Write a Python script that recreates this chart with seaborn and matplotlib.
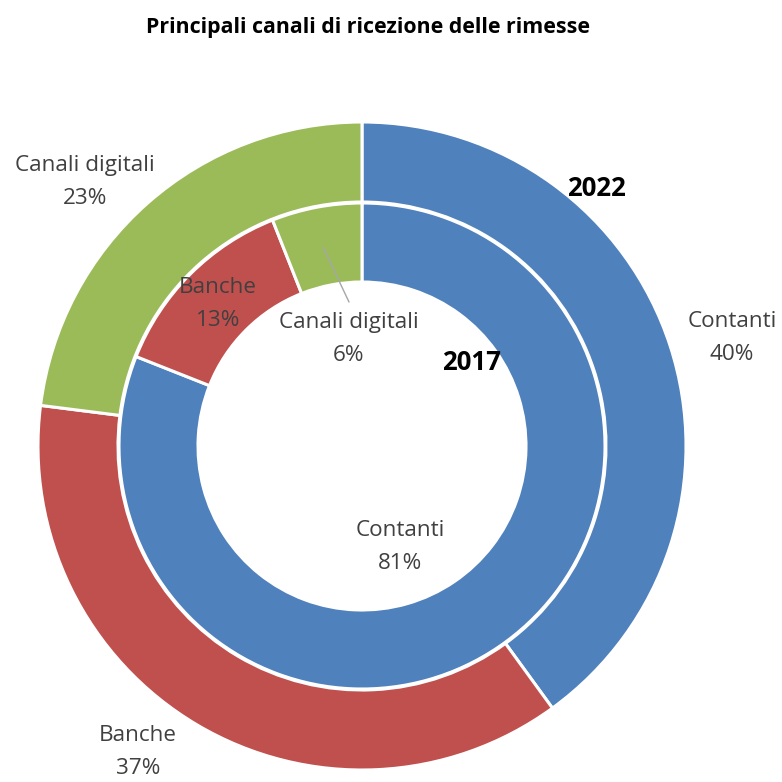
import matplotlib
matplotlib.use("Agg")
import matplotlib.pyplot as plt
import seaborn as sns

# data
categories = ["Contanti", "Banche", "Canali digitali"]
values_2022 = [40, 37, 23]
values_2017 = [81, 13, 6]
colors = ["#4F81BD", "#C0504D", "#9BBB59"]

sns.set_theme(style="white")
plt.rcParams['font.family'] = ['Open Sans', 'DejaVu Sans']

W = 782
fig = plt.figure(figsize=(7.82, 7.82), dpi=100)
ax = fig.add_axes([0, 0, 1, 1])
ax.set_xlim(0, W)
ax.set_ylim(0, W)
ax.set_aspect("equal")
ax.axis("off")

cx, cy = 362, W - 446
wedge_style = dict(edgecolor="white", linewidth=2.2)

# outer ring: 2022
ax.pie(values_2022, colors=colors, radius=324, center=(cx, cy),
       startangle=90, counterclock=False,
       wedgeprops=dict(width=80, **wedge_style))
# inner ring: 2017
ax.pie(values_2017, colors=colors, radius=243, center=(cx, cy),
       startangle=90, counterclock=False,
       wedgeprops=dict(width=79, **wedge_style))
ax.set_xlim(0, W)
ax.set_ylim(0, W)

label_color = "#404040"
fs = 16.2

def lab(x, y, cat, val):
    ax.text(x, W - y, f"{cat}\n{val}%", ha="center", va="center",
            fontsize=fs, color=label_color, linespacing=1.7)

outer_pos = [(732, 338), (138, 752), (85, 182)]
inner_pos = [(400, 547), (218, 304), (349, 339)]
for (x, y), c, v in zip(outer_pos, categories, values_2022):
    lab(x, y, c, v)
for (x, y), c, v in zip(inner_pos, categories, values_2017):
    lab(x, y, c, v)

# leader line for small slice
ax.plot([323, 349], [W - 247, W - 302], color="#A6A6A6", linewidth=1)

ax.text(596, W - 188, "2022", ha="center", va="center",
        fontsize=18.5, fontweight="bold", color="black")
ax.text(472, W - 362, "2017", ha="center", va="center",
        fontsize=18.5, fontweight="bold", color="black")

ax.text(368, W - 28, "Principali canali di ricezione delle rimesse",
        ha="center", va="center", fontsize=15.4, fontweight="bold",
        color="black")

fig.savefig("out.png", dpi=100)
